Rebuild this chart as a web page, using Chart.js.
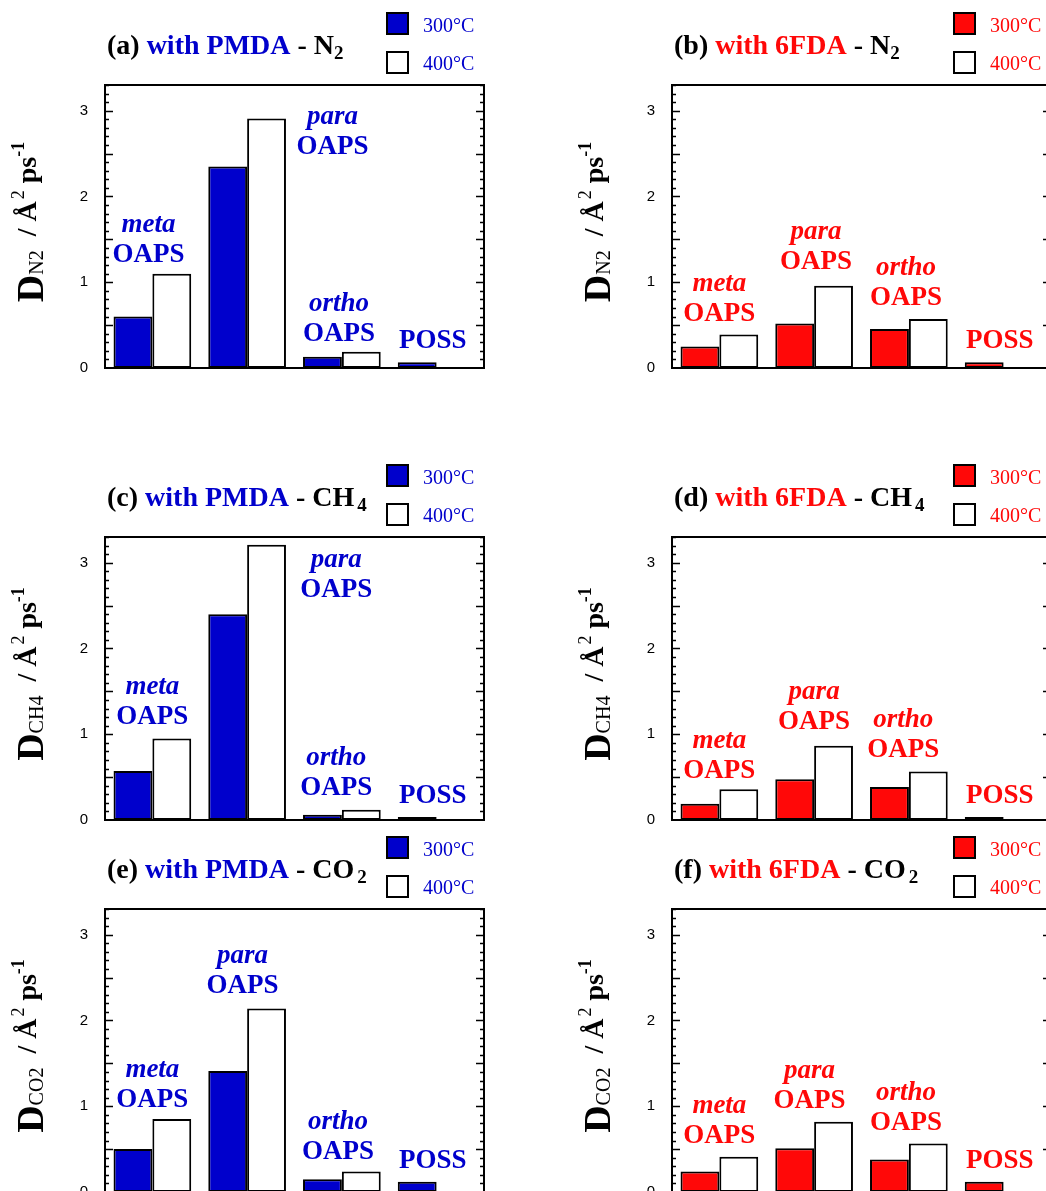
<!DOCTYPE html>
<html>
<head>
<meta charset="utf-8">
<script src="https://cdn.jsdelivr.net/npm/chart.js@4.4.1/dist/chart.umd.min.js"></script>
<style>
  html, body { margin: 0; padding: 0; background: #fff; overflow: hidden; width: 1046px; height: 1191px; }
  canvas { position: absolute; }
</style>
</head>
<body>
<canvas id="ca" width="540" height="380" style="left:0;top:0"></canvas>
<canvas id="cb" width="540" height="380" style="left:567px;top:0"></canvas>
<canvas id="cc" width="540" height="380" style="left:0;top:452px"></canvas>
<canvas id="cd" width="540" height="380" style="left:567px;top:452px"></canvas>
<canvas id="ce" width="540" height="380" style="left:0;top:824px"></canvas>
<canvas id="cf" width="540" height="380" style="left:567px;top:824px"></canvas>
<script>
const categories = ['meta OAPS', 'para OAPS', 'ortho OAPS', 'POSS']
const seriesNames = ['300°C', '400°C']
const tickValues = [0, 1, 2, 3]

// diffusion coefficients, Å² ps⁻¹
const pmdaN2at300 = [0.60, 2.35, 0.13, 0.066]
const pmdaN2at400 = [1.10, 2.91, 0.19, null]
const fdaN2at300 = [0.25, 0.52, 0.455, 0.066]
const fdaN2at400 = [0.39, 0.96, 0.57, null]
const pmdaCH4at300 = [0.57, 2.40, 0.06, 0.035]
const pmdaCH4at400 = [0.95, 3.21, 0.12, null]
const fdaCH4at300 = [0.19, 0.475, 0.385, 0.035]
const fdaCH4at400 = [0.36, 0.865, 0.565, null]
const pmdaCO2at300 = [0.50, 1.41, 0.15, 0.12]
const pmdaCO2at400 = [0.85, 2.14, 0.24, null]
const fdaCO2at300 = [0.24, 0.51, 0.38, 0.12]
const fdaCO2at400 = [0.41, 0.82, 0.565, null]

// in-plot labels: [category index, value] of the bottom line's baseline
const labelWords = [['meta', 'OAPS'], ['para', 'OAPS'], ['ortho', 'OAPS'], [null, 'POSS']]
const notesA = [[-0.04, 1.24], [1.9, 2.49], [1.97, 0.32], [2.96, 0.23]]
const notesB = [[0, 0.55], [1.02, 1.15], [1.97, 0.735], [2.96, 0.23]]
const notesC = [[0, 1.12], [1.94, 2.60], [1.94, 0.29], [2.96, 0.20]]
const notesD = [[0, 0.49], [1.0, 1.06], [1.94, 0.73], [2.96, 0.20]]
const notesE = [[0, 0.99], [0.95, 2.32], [1.96, 0.39], [2.96, 0.28]]
const notesF = [[0, 0.57], [0.95, 0.98], [1.97, 0.72], [2.96, 0.28]]

const BLUE = '#0000cc'
const RED = '#ff0808'
const SERIF = '"Liberation Serif", "Times New Roman", serif'
const SANS = '"Liberation Sans", Arial, sans-serif'

const panels = [
  { id: 'ca', tag: '(a) ', host: 'with PMDA', gas: ['N', '2'], color: BLUE, d300: pmdaN2at300, d400: pmdaN2at400, notes: notesA },
  { id: 'cb', tag: '(b) ', host: 'with 6FDA', gas: ['N', '2'], color: RED, d300: fdaN2at300, d400: fdaN2at400, notes: notesB },
  { id: 'cc', tag: '(c) ', host: 'with PMDA', gas: ['CH', '4'], color: BLUE, d300: pmdaCH4at300, d400: pmdaCH4at400, notes: notesC },
  { id: 'cd', tag: '(d) ', host: 'with 6FDA', gas: ['CH', '4'], color: RED, d300: fdaCH4at300, d400: fdaCH4at400, notes: notesD },
  { id: 'ce', tag: '(e) ', host: 'with PMDA', gas: ['CO', '2'], color: BLUE, d300: pmdaCO2at300, d400: pmdaCO2at400, notes: notesE },
  { id: 'cf', tag: '(f) ', host: 'with 6FDA', gas: ['CO', '2'], color: RED, d300: fdaCO2at300, d400: fdaCO2at400, notes: notesF }
]

// plot box inside each canvas
const BOX = { left: 105, top: 85, width: 379, height: 283 }

// draws a row of differently styled pieces, returns the end x
function drawRuns(ctx, x, y, runs) {
  ctx.textAlign = 'left'
  ctx.textBaseline = 'alphabetic'
  for (const r of runs) {
    ctx.font = r.font
    ctx.fillStyle = r.color || '#000'
    ctx.fillText(r.text, x + (r.pre || 0), y + (r.dy || 0))
    x += (r.pre || 0) + ctx.measureText(r.text).width
  }
  return x
}

function runsWidth(ctx, runs) {
  let w = 0
  for (const r of runs) {
    ctx.font = r.font
    w += (r.pre || 0) + ctx.measureText(r.text).width
  }
  return w
}

// pin the chart area to BOX regardless of what the layout computed
const fixedArea = {
  id: 'fixedArea',
  afterLayout(chart) {
    const area = chart.chartArea
    area.left = BOX.left
    area.top = BOX.top
    area.right = BOX.left + BOX.width
    area.bottom = BOX.top + BOX.height
    area.width = BOX.width
    area.height = BOX.height
    for (const s of Object.values(chart.scales)) {
      if (s.isHorizontal()) {
        s.left = area.left; s.right = area.right; s.width = area.width
      } else {
        s.top = area.top; s.bottom = area.bottom; s.height = area.height
        s.right = area.left; s.left = 0; s.width = area.left
      }
      s.configure()
    }
  }
}

const panelDecor = {
  id: 'panelDecor',
  afterDatasetsDraw(chart, args, opts) {
    const { ctx, chartArea: area, scales } = chart
    const { left, right, top, bottom } = area
    ctx.save()

    // frame
    ctx.strokeStyle = '#000'
    ctx.lineWidth = 2
    ctx.strokeRect(left, top, right - left, bottom - top)

    // inward ticks on both sides, minor every 0.1
    ctx.lineWidth = 1.6
    ctx.beginPath()
    for (let i = 1; i <= 33; i++) {
      const y = Math.round(scales.y.getPixelForValue(i / 10)) + 0.5
      const len = i % 5 === 0 ? 8 : 4
      ctx.moveTo(left, y); ctx.lineTo(left + len, y)
      ctx.moveTo(right, y); ctx.lineTo(right - len, y)
    }
    ctx.stroke()

    // panel title
    drawRuns(ctx, left + 2, top - 31, [
      { text: opts.tag, font: `bold 28px ${SERIF}` },
      { text: opts.host, font: `bold 28px ${SERIF}`, color: opts.color },
      { text: ' - ' + opts.gas[0], font: `bold 28px ${SERIF}` },
      { text: opts.gas[1], font: `bold 19px ${SERIF}`, dy: 5, pre: opts.gas[0] === 'N' ? 0 : 3 }
    ])

    // legend
    const swatches = [opts.color, '#fff']
    seriesNames.forEach((name, k) => {
      const by = top - 72 + k * 39
      ctx.fillStyle = swatches[k]
      ctx.fillRect(left + 282, by, 21, 21)
      ctx.strokeStyle = '#000'
      ctx.lineWidth = 2
      ctx.strokeRect(left + 282, by, 21, 21)
      drawRuns(ctx, left + 318, top - 53 + k * 38, [{ text: name, font: `20px ${SERIF}`, color: opts.color }])
    })

    // y axis title
    const gasSub = opts.gas.join('')
    const titleRuns = [
      { text: 'D', font: `bold 38px ${SERIF}` },
      { text: gasSub, font: `20px ${SERIF}`, dy: 0 },
      { text: '  / Å', font: `bold 28px ${SERIF}`, dy: -7 },
      { text: '2', font: `18px ${SERIF}`, dy: -19, pre: 2 },
      { text: ' ps', font: `bold 28px ${SERIF}`, dy: -7 },
      { text: '-1', font: `bold 18px ${SERIF}`, dy: -19 }
    ]
    ctx.save()
    ctx.translate(left - 62, top + 137)
    ctx.rotate(-Math.PI / 2)
    drawRuns(ctx, -runsWidth(ctx, titleRuns) / 2, 0, titleRuns)
    ctx.restore()

    // labels over the bar groups
    ctx.textAlign = 'center'
    ctx.textBaseline = 'alphabetic'
    ctx.fillStyle = opts.color
    opts.notes.forEach(([xi, v], i) => {
      const x = scales.x.getPixelForValue(xi)
      const y = scales.y.getPixelForValue(v)
      const [upper, lower] = labelWords[i]
      ctx.font = `bold 27px ${SERIF}`
      ctx.fillText(lower, x, y)
      if (upper) {
        ctx.font = `italic bold 27px ${SERIF}`
        ctx.fillText(upper, x, y - 30)
      }
    })

    ctx.restore()
  }
}

panels.forEach((p) => {
  const ctx = document.getElementById(p.id).getContext('2d')
  new Chart(ctx, {
    type: 'bar',
    data: {
      labels: categories,
      datasets: [
        { label: seriesNames[0], data: p.d300, backgroundColor: p.color, borderColor: '#000', borderWidth: 2, borderSkipped: false },
        { label: seriesNames[1], data: p.d400, backgroundColor: '#fff', borderColor: '#000', borderWidth: 2, borderSkipped: false }
      ]
    },
    options: {
      responsive: false,
      animation: false,
      categoryPercentage: 0.82,
      barPercentage: 1.0,
      layout: { padding: { top: 85, right: 56, bottom: 12, left: 0 } },
      plugins: {
        legend: { display: false },
        tooltip: { enabled: false },
        panelDecor: { tag: p.tag, host: p.host, gas: p.gas, color: p.color, notes: p.notes }
      },
      scales: {
        x: { type: 'category', display: false },
        y: {
          min: 0,
          max: 3.3,
          afterFit: (scale) => { scale.width = 105 },
          afterBuildTicks: (scale) => { scale.ticks = tickValues.map((v) => ({ value: v })) },
          grid: { display: false, drawTicks: false },
          border: { display: false },
          ticks: { color: '#000', padding: 17, font: { family: SANS, size: 15 } }
        }
      }
    },
    plugins: [fixedArea, panelDecor]
  })
})
</script>
</body>
</html>
